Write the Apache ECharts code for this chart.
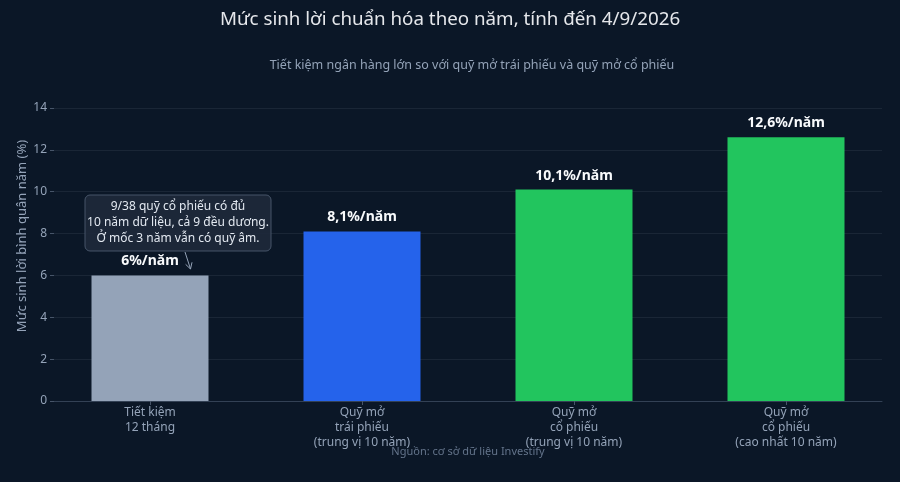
<!DOCTYPE html>
<html>
<head>
<meta charset="utf-8">
<script src="https://cdn.jsdelivr.net/npm/echarts@6/dist/echarts.min.js"></script>
<style>
html,body{margin:0;padding:0;background:#0b1727;}
#chart{width:900px;height:482px;}
</style>
</head>
<body>
<div id="chart"></div>
<script>
const categories = ['Tiết kiệm\n12 tháng', 'Quỹ mở\ntrái phiếu\n(trung vị 10 năm)', 'Quỹ mở\ncổ phiếu\n(trung vị 10 năm)', 'Quỹ mở\ncổ phiếu\n(cao nhất 10 năm)'];
const values = [6.0, 8.1, 10.1, 12.6];
const valueLabels = ['6%/năm', '8,1%/năm', '10,1%/năm', '12,6%/năm'];
const barColors = ['#94a3b8', '#2563eb', '#22c55e', '#22c55e'];
const yTicks = { min: 0, max: 14, interval: 2 };
const titleText = 'Mức sinh lời chuẩn hóa theo năm, tính đến 4/9/2026';
const subtitleText = 'Tiết kiệm ngân hàng lớn so với quỹ mở trái phiếu và quỹ mở cổ phiếu';
const yAxisName = 'Mức sinh lời bình quân năm (%)';
const noteLines = ['9/38 quỹ cổ phiếu có đủ', '10 năm dữ liệu, cả 9 đều dương.', 'Ở mốc 3 năm vẫn có quỹ âm.'];
const sourceText = 'Nguồn: cơ sở dữ liệu Investify';

const FONT = '"Noto Sans", "Open Sans", sans-serif';
const chart = echarts.init(document.getElementById('chart'));

const option = {
  backgroundColor: '#0b1727',
  textStyle: { fontFamily: FONT },
  animation: false,
  title: [
    { text: titleText, left: 'center', top: 5,
      textStyle: { color: '#e5e7eb', fontSize: 18.75, fontWeight: 'normal', fontFamily: FONT } },
    { text: subtitleText, left: 467, textAlign: 'center', top: 54,
      textStyle: { color: '#94a3b8', fontSize: 12.5, fontWeight: 'normal', fontFamily: FONT } }
  ],
  grid: [
    { left: 54, right: 18, top: 108, bottom: 81 },
    { left: 44, right: 8, top: 108, bottom: 81 }
  ],
  xAxis: [
    { type: 'category', gridIndex: 0, data: categories,
      axisLine: { show: true, lineStyle: { color: '#334155', width: 1 } },
      axisTick: { show: false }, axisLabel: { show: false }, splitLine: { show: false } },
    { type: 'category', gridIndex: 1, data: categories,
      axisLine: { show: false },
      axisTick: { show: true, alignWithLabel: true, length: 4, lineStyle: { color: '#475569' } },
      axisLabel: { color: '#94a3b8', fontSize: 12, lineHeight: 15, margin: 4, interval: 0, fontFamily: FONT } }
  ],
  yAxis: [
    { type: 'value', gridIndex: 0, min: yTicks.min, max: yTicks.max, interval: yTicks.interval,
      axisLine: { show: false },
      axisTick: { show: true, length: 4, lineStyle: { color: '#475569' } },
      axisLabel: { color: '#94a3b8', fontSize: 12, margin: 7, fontFamily: FONT },
      splitLine: { lineStyle: { color: '#1a2636', width: 1 } } },
    { type: 'value', gridIndex: 1, min: yTicks.min, max: yTicks.max, interval: yTicks.interval,
      show: false, splitLine: { show: false } }
  ],
  series: [{
    type: 'bar', xAxisIndex: 1, yAxisIndex: 1, barWidth: 117,
    data: values.map((v, i) => ({ value: v, itemStyle: { color: barColors[i] } })),
    label: { show: true, position: 'top', distance: 7,
      formatter: p => valueLabels[p.dataIndex],
      color: '#f8fafc', fontSize: 14, fontWeight: 'bold', fontFamily: FONT }
  }],
  graphic: [
    { type: 'text', x: 22, y: 236, rotation: Math.PI / 2, z: 11,
      style: { text: yAxisName, fill: '#94a3b8', fontSize: 13, align: 'center', verticalAlign: 'middle', fontFamily: FONT } },
    { type: 'rect', shape: { x: 85, y: 195, width: 186, height: 56, r: 5 },
      style: { fill: 'rgba(30,41,59,0.9)', stroke: '#475569', lineWidth: 1 }, z: 10 },
    { type: 'text', x: 178, y: 223, z: 11,
      style: { text: noteLines.join('\n'), fill: '#e2e8f0', fontSize: 12, lineHeight: 16,
        align: 'center', verticalAlign: 'middle', fontFamily: FONT } },
    { type: 'polyline', z: 11, shape: { points: [[185, 252], [190.5, 269]] },
      style: { stroke: '#94a3b8', lineWidth: 1, fill: null } },
    { type: 'polyline', z: 11, shape: { points: [[192.0, 262.3], [190.5, 269], [185.6, 264.3]] },
      style: { stroke: '#94a3b8', lineWidth: 1, fill: null } },
    { type: 'text', x: 468, y: 452, z: 11,
      style: { text: sourceText, fill: '#64748b', fontSize: 11, align: 'center', verticalAlign: 'middle', fontFamily: FONT } }
  ]
};
chart.setOption(option);
</script>
</body>
</html>
